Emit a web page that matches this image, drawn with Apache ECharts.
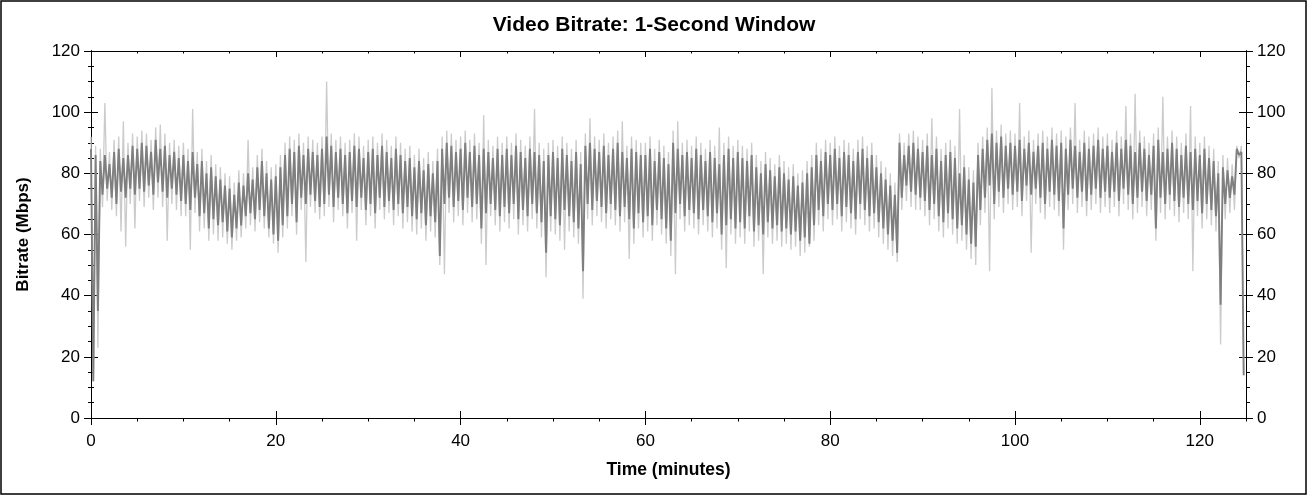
<!DOCTYPE html>
<html lang="en">
<head>
    <meta charset="UTF-8">
    <title>Video Bitrate: 1-Second Window</title>
    <script src="https://cdn.jsdelivr.net/npm/echarts@6.0.0/dist/echarts.min.js"></script>
    <style>
        html, body {
            margin: 0;
            padding: 0;
            background-color: #ffffff;
        }
        #chart {
            width: 1308px;
            height: 495px;
        }
    </style>
</head>
<body>
    <div id="chart"></div>

    <script>
        // time step of each bucket (minutes); each bucket holds a high and a low reading
        var bucketMinutes = 0.5;

        // dark trace, high / low per half-minute bucket (Mbps)
        var darkHi = [
            88, 86, 84, 86, 83, 87, 88, 85, 86, 89,
            88, 90, 89, 87, 91, 88, 89, 86, 87, 85,
            86, 84, 87, 83, 84, 80, 82, 79, 78, 76,
            75, 73, 77, 76, 80, 78, 82, 84, 80, 78,
            79, 82, 86, 88, 87, 89, 86, 88, 87, 86,
            88, 92, 89, 87, 88, 86, 87, 89, 88, 85,
            87, 88, 86, 89, 87, 85, 88, 86, 84, 85,
            82, 84, 81, 83, 80, 84, 88, 90, 89, 87,
            88, 90, 87, 89, 86, 88, 87, 85, 88, 86,
            88, 86, 89, 87, 85, 88, 87, 86, 84, 86,
            87, 85, 88, 86, 84, 87, 83, 89, 90, 88,
            87, 89, 86, 88, 90, 87, 85, 88, 87, 86,
            86, 88, 84, 87, 85, 83, 90, 88, 86, 87,
            85, 88, 86, 84, 87, 85, 83, 86, 88, 85,
            87, 85, 84, 86, 82, 80, 83, 81, 79, 82,
            80, 78, 79, 76, 77, 80, 82, 86, 84, 87,
            86, 88, 85, 87, 86, 84, 87, 88, 85, 86,
            82, 80, 78, 76, 73, 90, 86, 89, 90, 88,
            87, 89, 86, 88, 84, 86, 87, 85, 80, 82,
            78, 77, 86, 88, 91, 93, 90, 92, 89, 90,
            89, 91, 88, 90, 87, 89, 90, 88, 91, 89,
            90, 88, 91, 89, 87, 90, 88, 89, 91, 88,
            89, 87, 90, 88, 91, 89, 87, 90, 88, 86,
            89, 91, 87, 88, 90, 88, 86, 89, 87, 88,
            86, 88, 85, 84, 80, 82, 81, 79, 88, 87
        ];
        var darkLo = [
            12, 35, 73, 75, 72, 70, 74, 72, 75, 73,
            75, 74, 76, 73, 77, 74, 72, 75, 73, 71,
            70, 68, 72, 66, 67, 62, 65, 63, 64, 61,
            59, 62, 63, 66, 67, 65, 68, 66, 62, 60,
            58, 63, 66, 70, 64, 72, 70, 73, 71, 69,
            70, 73, 69, 72, 70, 67, 71, 69, 72, 68,
            70, 67, 72, 69, 71, 68, 70, 67, 69, 66,
            65, 67, 63, 66, 64, 53, 70, 72, 69, 71,
            68, 72, 69, 70, 62, 67, 70, 68, 66, 69,
            67, 70, 65, 68, 66, 70, 67, 64, 54, 66,
            65, 63, 68, 66, 64, 62, 48, 70, 68, 71,
            69, 67, 70, 68, 66, 69, 65, 62, 67, 64,
            66, 63, 68, 65, 62, 58, 67, 70, 66, 68,
            67, 65, 68, 66, 64, 67, 60, 63, 65, 62,
            64, 62, 66, 61, 63, 60, 64, 62, 63, 61,
            62, 60, 61, 58, 59, 57, 63, 68, 66, 70,
            68, 70, 66, 69, 67, 65, 70, 68, 66, 67,
            64, 62, 60, 58, 54, 72, 76, 74, 73, 72,
            71, 68, 70, 66, 64, 67, 65, 62, 63, 60,
            57, 56, 68, 72, 76, 70, 74, 72, 75, 73,
            74, 71, 76, 73, 75, 72, 70, 74, 73, 71,
            62, 73, 75, 72, 74, 71, 73, 75, 72, 74,
            72, 74, 71, 75, 73, 70, 72, 74, 71, 73,
            62, 72, 70, 73, 71, 69, 72, 70, 68, 71,
            67, 70, 68, 66, 37, 70, 72, 73, 86, 14
        ];

        // light trace (peaks and dips around the dark one)
        var lightHi = [
            92, 89, 88, 103, 87, 91, 92, 97, 90, 93,
            92, 94, 93, 91, 95, 96, 93, 90, 91, 89,
            90, 88, 101, 87, 88, 84, 86, 83, 82, 80,
            79, 77, 81, 80, 91, 82, 86, 88, 84, 82,
            83, 86, 90, 92, 91, 93, 90, 92, 91, 90,
            92, 110, 93, 91, 92, 90, 91, 93, 92, 89,
            91, 92, 90, 93, 91, 89, 92, 90, 88, 89,
            86, 88, 85, 87, 84, 88, 92, 94, 93, 91,
            92, 94, 91, 93, 90, 99, 91, 89, 92, 90,
            92, 90, 93, 91, 89, 92, 101, 90, 88, 90,
            91, 89, 92, 90, 88, 91, 87, 93, 98, 92,
            91, 93, 90, 92, 94, 97, 89, 92, 91, 90,
            90, 92, 88, 91, 89, 87, 94, 97, 90, 91,
            89, 92, 90, 88, 91, 89, 95, 90, 92, 89,
            91, 89, 88, 90, 86, 84, 87, 85, 83, 86,
            84, 82, 83, 80, 81, 84, 86, 90, 88, 91,
            90, 92, 89, 91, 90, 88, 91, 92, 89, 90,
            86, 84, 82, 80, 77, 93, 90, 93, 94, 92,
            91, 93, 98, 92, 88, 90, 91, 89, 101, 86,
            82, 81, 90, 92, 95, 108, 94, 96, 93, 94,
            93, 103, 92, 94, 91, 93, 94, 92, 95, 93,
            94, 92, 95, 103, 91, 94, 92, 93, 95, 92,
            93, 91, 94, 92, 102, 93, 106, 94, 92, 90,
            93, 95, 105, 92, 94, 92, 90, 93, 102, 92,
            90, 92, 89, 88, 84, 86, 85, 83, 89, 89
        ];
        var lightLo = [
            12, 23, 69, 71, 68, 66, 61, 56, 70, 62,
            71, 69, 72, 68, 72, 69, 58, 70, 68, 66,
            66, 55, 67, 61, 62, 58, 60, 58, 59, 57,
            55, 58, 59, 62, 63, 61, 64, 62, 59, 57,
            54, 59, 62, 66, 60, 68, 51, 69, 67, 65,
            66, 69, 64, 68, 66, 62, 67, 58, 68, 63,
            66, 62, 68, 65, 67, 63, 66, 62, 64, 61,
            60, 62, 58, 61, 59, 50, 47, 67, 64, 66,
            63, 67, 64, 65, 57, 50, 66, 63, 61, 64,
            62, 65, 60, 63, 61, 65, 62, 59, 46, 61,
            60, 58, 55, 61, 59, 57, 39, 65, 63, 66,
            64, 62, 65, 63, 61, 64, 52, 57, 62, 59,
            61, 58, 63, 60, 57, 53, 47, 65, 61, 63,
            62, 60, 63, 61, 59, 62, 55, 49, 60, 57,
            59, 57, 61, 56, 58, 47, 59, 57, 58, 56,
            57, 55, 56, 53, 54, 56, 58, 63, 61, 65,
            63, 65, 61, 64, 62, 60, 65, 63, 61, 62,
            59, 57, 55, 53, 51, 68, 71, 69, 68, 68,
            66, 63, 65, 61, 59, 62, 60, 57, 58, 55,
            52, 50, 63, 67, 48, 65, 69, 67, 70, 68,
            69, 66, 71, 54, 70, 67, 65, 69, 68, 66,
            55, 68, 70, 67, 69, 66, 68, 70, 67, 69,
            67, 69, 66, 70, 68, 65, 67, 69, 66, 68,
            58, 67, 65, 68, 66, 64, 67, 65, 48, 66,
            62, 65, 63, 61, 24, 65, 67, 68, 85, 14
        ];

        // axis ticks
        var xMajor = [0, 20, 40, 60, 80, 100, 120];
        var xMinor = [5, 10, 15, 25, 30, 35, 45, 50, 55, 65, 70, 75, 85, 90, 95, 105, 110, 115, 125];
        var yMajor = [0, 20, 40, 60, 80, 100, 120];
        var yMinor = [5, 10, 15, 25, 30, 35, 45, 50, 55, 65, 70, 75, 85, 90, 95, 105, 110, 115];

        // high/low readings of a bucket become two consecutive points of the trace
        function buildTrace(hi, lo) {
            var pts = [];
            for (var i = 0; i < hi.length; i++) {
                pts.push([i * bucketMinutes, hi[i]]);
                pts.push([i * bucketMinutes + bucketMinutes / 2, lo[i]]);
            }
            return pts;
        }

        var myChart = echarts.init(document.getElementById('chart'), null, { renderer: 'canvas' });

        var black = '#000000';
        var fontName = 'Liberation Sans, Arial, sans-serif';
        var labelFont = { color: black, fontFamily: fontName, fontSize: 17 };

        function xAx(pos, ticks, inside, len, extra) {
            var a = {
                type: 'value', position: pos, min: 0, max: 125,
                axisLine: { show: true, onZero: false, lineStyle: { color: black, width: 1 } },
                axisTick: { show: true, customValues: ticks, inside: inside, length: len, lineStyle: { color: black, width: 1 } },
                axisLabel: { show: false },
                splitLine: { show: false }
            };
            return Object.assign(a, extra || {});
        }
        function yAx(pos, ticks, inside, len, extra) {
            var a = {
                type: 'value', position: pos, min: 0, max: 120,
                axisLine: { show: true, onZero: false, lineStyle: { color: black, width: 1 } },
                axisTick: { show: true, customValues: ticks, inside: inside, length: len, lineStyle: { color: black, width: 1 } },
                axisLabel: { show: false },
                splitLine: { show: false }
            };
            return Object.assign(a, extra || {});
        }

        var option = {
            animation: false,
            backgroundColor: '#ffffff',
            title: {
                text: 'Video Bitrate: 1-Second Window',
                left: 'center',
                top: 15,
                padding: 0,
                textStyle: { color: black, fontFamily: fontName, fontSize: 21, fontWeight: 'bold' }
            },
            grid: { left: 91, right: 62, top: 51, bottom: 77, containLabel: false },
            xAxis: [
                xAx('bottom', xMajor, false, 7, {
                    axisLabel: Object.assign({ show: true, customValues: xMajor, margin: 15 }, labelFont),
                    name: 'Time (minutes)',
                    nameLocation: 'middle',
                    nameGap: 43,
                    nameTextStyle: { color: black, fontFamily: fontName, fontSize: 17.5, fontWeight: 'bold' }
                }),
                xAx('bottom', xMajor, true, 7),
                xAx('bottom', xMinor, false, 3.5),
                xAx('top', xMajor, true, 6),
                xAx('top', xMinor, true, 2.5)
            ],
            yAxis: [
                yAx('left', yMajor, false, 7, {
                    axisLabel: Object.assign({ show: true, customValues: yMajor, margin: 11 }, labelFont),
                    name: 'Bitrate (Mbps)',
                    nameLocation: 'middle',
                    nameGap: 59,
                    nameTextStyle: { color: black, fontFamily: fontName, fontSize: 17, fontWeight: 'bold' }
                }),
                yAx('left', yMajor, true, 7),
                yAx('left', yMinor, false, 3),
                yAx('left', yMinor, true, 3),
                yAx('right', yMajor, false, 7, {
                    axisLabel: Object.assign({ show: true, customValues: yMajor, margin: 11 }, labelFont)
                }),
                yAx('right', yMajor, true, 7),
                yAx('right', yMinor, false, 4)
            ],
            graphic: [{
                type: 'rect',
                shape: { x: 1, y: 1, width: 1305, height: 493 },
                style: { fill: 'none', stroke: black, lineWidth: 1.5 },
                silent: true
            }],
            series: [
                {
                    name: 'peaks',
                    type: 'line',
                    xAxisIndex: 0,
                    yAxisIndex: 0,
                    data: buildTrace(lightHi, lightLo),
                    showSymbol: false,
                    symbol: 'none',
                    sampling: null,
                    lineStyle: { color: '#cbcbcb', width: 1.3 },
                    z: 2
                },
                {
                    name: 'bitrate',
                    type: 'line',
                    xAxisIndex: 0,
                    yAxisIndex: 0,
                    data: buildTrace(darkHi, darkLo),
                    showSymbol: false,
                    symbol: 'none',
                    sampling: null,
                    lineStyle: { color: '#7f7f7f', width: 1.9 },
                    z: 3
                }
            ]
        };

        myChart.setOption(option);
    </script>
</body>
</html>
